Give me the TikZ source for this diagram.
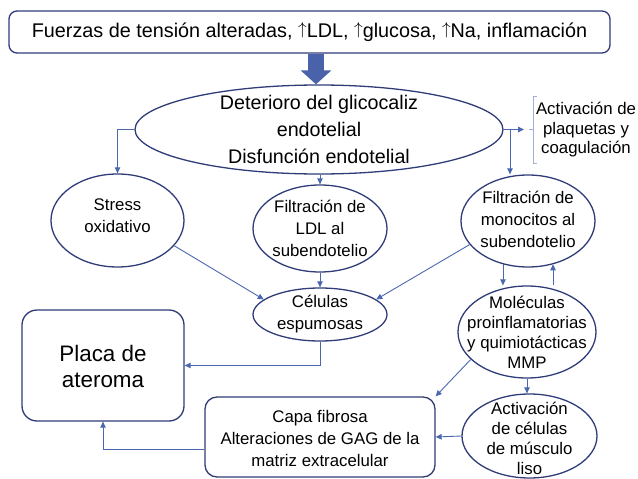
\documentclass[tikz,border=0pt]{standalone}
\usepackage{fontspec}
\setmainfont{Liberation Sans}
\usetikzlibrary{shapes.geometric,arrows.meta,calc}
\definecolor{edgec}{HTML}{2F3C78}
\definecolor{connc}{HTML}{4B67B0}
\definecolor{brkc}{HTML}{A3AFCF}
\definecolor{bigarrow}{HTML}{4A62AA}
\newcommand\myup{\raisebox{3.1pt}{\fontsize{16}{16}\selectfont$\uparrow$}}
\begin{document}
\begin{tikzpicture}[x=1pt,y=-1pt,
  shapebox/.style={draw=edgec, line width=1.3pt, inner sep=0pt},
  oval/.style={ellipse, draw=edgec, line width=1.3pt, inner sep=0pt},
  txt/.style={align=center, inner sep=0pt, font=\fontsize{16.8}{22}\selectfont},
  conn/.style={draw=connc, line width=0.9pt, -{Triangle[length=6pt,width=5.5pt]}}]
\useasboundingbox (0,0) rectangle (638,479);
% shapes
\node[shapebox, rounded corners=8pt, minimum width=601pt, minimum height=42pt] (top) at (309.5,32) {};
\node[txt, font=\fontsize{19.8}{24}\selectfont] (topt) at (top) {Fuerzas de tensión alteradas, \myup LDL, \myup glucosa, \myup Na, inflamación};
\node[oval, minimum width=368pt, minimum height=89pt] (big) at (319,129.5) {};
\node[txt, font=\fontsize{19.7}{27}\selectfont] (bigt) at (big) {Deterioro del glicocaliz\\endotelial\\Disfunción endotelial};
\node[oval, minimum width=133pt, minimum height=93pt] (stress) at (117.5,220.5) {};
\node[txt] (stresst) at ($(stress)+(0,-4.5)$) {Stress\\oxidativo};
\node[oval, minimum width=134pt, minimum height=87pt] (ldl) at (320,228.5) {};
\node[txt] (ldlt) at (ldl) {Filtración de\\LDL al\\subendotelio};
\node[oval, minimum width=134pt, minimum height=92pt] (mono) at (528,221) {};
\node[txt] (monot) at ($(mono)+(0,-2)$) {Filtración de\\monocitos al\\subendotelio};
\node[oval, minimum width=134pt, minimum height=53pt] (cel) at (320,314.5) {};
\node[txt] (celt) at (cel) {Células\\espumosas};
\node[oval, minimum width=138pt, minimum height=92pt] (mol) at (527,332) {};
\node[txt, font=\fontsize{16.8}{20}\selectfont] (molt) at (mol) {Moléculas\\proinflamatorias\\y quimiotácticas\\MMP};
\node[oval, minimum width=135pt, minimum height=84pt] (act) at (529.5,436) {};
\node[txt, font=\fontsize{16.8}{20}\selectfont] (actt) at ($(act)+(0,2.8)$) {Activación\\de células\\de músculo\\liso};
\node[shapebox, rounded corners=15pt, minimum width=162pt, minimum height=111pt] (placa) at (103,365.5) {};
\node[txt, font=\fontsize{22.4}{26}\selectfont] (placat) at ($(placa)+(0,1.3)$) {Placa de\\ateroma};
\node[shapebox, rounded corners=12pt, minimum width=230pt, minimum height=80pt] (capa) at (320,437) {};
\node[txt] (capat) at ($(capa)+(0,1.8)$) {Capa fibrosa\\Alteraciones de GAG de la\\matriz extracelular};
\node[txt, font=\fontsize{16.8}{19.5}\selectfont] (plaq) at (586,130) {Activación de\\plaquetas y\\coagulación};
% bracket
\draw[brkc, line width=0.8pt] (537,96) -- (533,96) -- (533,163) -- (537,163);
\draw[brkc, line width=0.8pt] (529,129.5) -- (533,129.5);
% big arrow
\draw[bigarrow, line width=16pt, -{Triangle[length=14pt,width=30pt]}] ($(big.north |- top.south)+(-3,0)$) -- ($(big.north)+(-3,0)$);
% connectors
\coordinate (brkin) at (524,129.5);
\coordinate (split) at (510,129.5);
\draw[conn] (big.east) -- (brkin);
\draw[conn] (split) -- (split |- mono.north);
\draw[conn] (big.west) -| (stress.north);
\draw[conn] (ldl.north |- big.south) -- (ldl.north);
\draw[conn] (stress.-24) -- (cel.165);
\draw[conn] (ldl.south) -- (cel.north);
\draw[conn] (mono.202) -- (cel.15);
\draw[conn] (mono.240) -- (mono.240 |- mol.north);
\draw[conn] (mono.300 |- mol.north) -- (mono.300);
\draw[conn] (mol.south) -- (mol.south |- act.north);
\draw[conn] (mol.206) -- (capa.north east);
\draw[conn] (act.west) -- (capa.east);
\draw[conn] (cel.south) |- (placa.east);
\draw[conn] ($(capa.west)+(0,12)$) -| (placa.south);
\end{tikzpicture}
\end{document}
